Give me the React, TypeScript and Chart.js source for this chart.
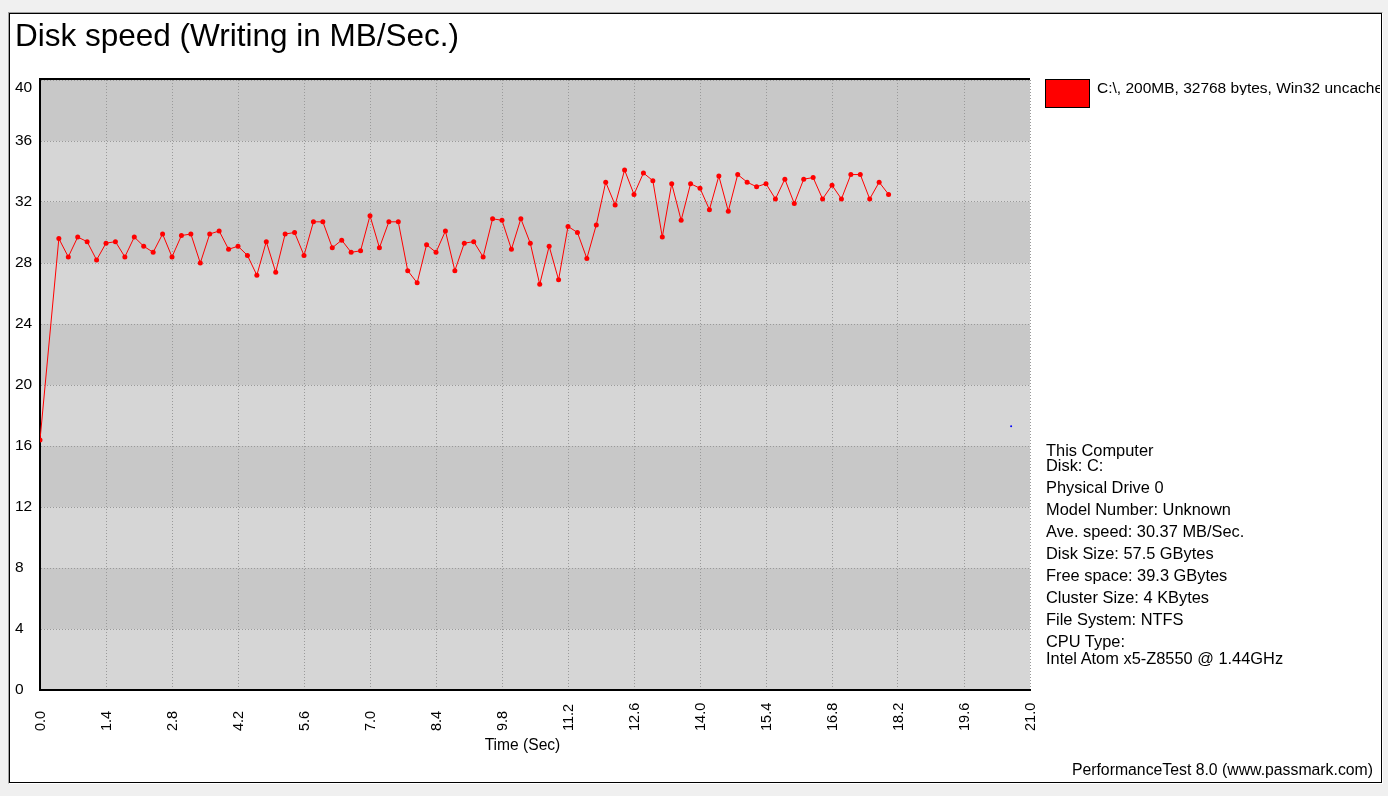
import React, { useEffect, useRef } from "react";
import { Chart, registerables } from "chart.js";

Chart.register(...registerables);

// ---- data ----
const timeSec = [
  0, 0.4, 0.6, 0.8, 1.0, 1.2, 1.4, 1.6, 1.8, 2.0, 2.2, 2.4, 2.6, 2.8, 3.0, 3.2, 3.4, 3.6, 3.8, 4.0,
  4.2, 4.4, 4.6, 4.8, 5.0, 5.2, 5.4, 5.6, 5.8, 6.0, 6.2, 6.4, 6.6, 6.8, 7.0, 7.2, 7.4, 7.6, 7.8, 8.0,
  8.2, 8.4, 8.6, 8.8, 9.0, 9.2, 9.4, 9.6, 9.8, 10.0, 10.2, 10.4, 10.6, 10.8, 11.0, 11.2, 11.4, 11.6,
  11.8, 12.0, 12.2, 12.4, 12.6, 12.8, 13.0, 13.2, 13.4, 13.6, 13.8, 14.0, 14.2, 14.4, 14.6, 14.8,
  15.0, 15.2, 15.4, 15.6, 15.8, 16.0, 16.2, 16.4, 16.6, 16.8, 17.0, 17.2, 17.4, 17.6, 17.8, 18.0,
];

const writeSpeed = [
  16.4, 29.6, 28.4, 29.7, 29.4, 28.2, 29.3, 29.4, 28.4, 29.7, 29.1, 28.7, 29.9, 28.4, 29.8, 29.9,
  28.0, 29.9, 30.1, 28.9, 29.1, 28.5, 27.2, 29.4, 27.4, 29.9, 30.0, 28.5, 30.7, 30.7, 29.0, 29.5,
  28.7, 28.8, 31.1, 29.0, 30.7, 30.7, 27.5, 26.7, 29.2, 28.7, 30.1, 27.5, 29.3, 29.4, 28.4, 30.9,
  30.8, 28.9, 30.9, 29.3, 26.6, 29.1, 26.9, 30.4, 30.0, 28.3, 30.5, 33.3, 31.8, 34.1, 32.5, 33.9,
  33.4, 29.7, 33.2, 30.8, 33.2, 32.9, 31.5, 33.7, 31.4, 33.8, 33.3, 33.0, 33.2, 32.2, 33.5, 31.9,
  33.5, 33.6, 32.2, 33.1, 32.2, 33.8, 33.8, 32.2, 33.3, 32.5,
];

const strayTime = [20.6];
const strayValue = [17.3];

const xTicks = [0, 1.4, 2.8, 4.2, 5.6, 7.0, 8.4, 9.8, 11.2, 12.6, 14.0, 15.4, 16.8, 18.2, 19.6, 21.0];
const xTickLabels = ["0.0", "1.4", "2.8", "4.2", "5.6", "7.0", "8.4", "9.8", "11.2", "12.6", "14.0", "15.4", "16.8", "18.2", "19.6", "21.0"];
const yTicks = [0, 4, 8, 12, 16, 20, 24, 28, 32, 36, 40];
const yTickLabels = ["0", "4", "8", "12", "16", "20", "24", "28", "32", "36", "40"];

const titleText = "Disk speed (Writing in MB/Sec.)";
const legendText = "C:\\, 200MB, 32768 bytes, Win32 uncached";
const xAxisTitle = "Time (Sec)";
const footerText = "PerformanceTest 8.0 (www.passmark.com)";
const infoLines = [
  "This Computer",
  "Disk: C:",
  "Physical Drive 0",
  "Model Number: Unknown",
  "Ave. speed: 30.37 MB/Sec.",
  "Disk Size: 57.5 GBytes",
  "Free space: 39.3 GBytes",
  "Cluster Size: 4 KBytes",
  "File System: NTFS",
  "CPU Type:",
  "Intel Atom x5-Z8550 @ 1.44GHz",
];
const infoBaselines = [456, 471, 493, 515, 537, 559, 581, 603, 625, 647, 664];

const FONT = '"Liberation Sans", Arial, sans-serif';

const decorPlugin = {
  id: "decor",
  beforeDraw(chart: any) {
    const { ctx, chartArea: a, scales } = chart;
    const y = scales.y;
    ctx.save();
    for (let i = 0; i < yTicks.length - 1; i++) {
      const top = y.getPixelForValue(yTicks[i + 1]);
      const bot = y.getPixelForValue(yTicks[i]);
      ctx.fillStyle = i % 2 === 0 ? "#d6d6d6" : "#c8c8c8";
      ctx.fillRect(a.left, top, a.right - a.left, bot - top);
    }
    ctx.restore();
  },
  afterDraw(chart: any) {
    const { ctx, chartArea: a, scales } = chart;
    const x = scales.x;
    const y = scales.y;
    ctx.save();
    // top frame line
    ctx.strokeStyle = "#000";
    ctx.lineWidth = 2;
    ctx.beginPath();
    ctx.moveTo(a.left - 1, a.top - 1);
    ctx.lineTo(a.right, a.top - 1);
    ctx.stroke();

    ctx.fillStyle = "#000";
    // y labels
    ctx.font = `15.5px ${FONT}`;
    ctx.textAlign = "left";
    ctx.textBaseline = "middle";
    yTicks.forEach((v, i) => {
      const py = Math.max(y.getPixelForValue(v), a.top + 8);
      ctx.fillText(yTickLabels[i], 15, py);
    });
    // x labels, rotated
    ctx.font = `14.5px ${FONT}`;
    xTicks.forEach((v, i) => {
      const px = x.getPixelForValue(v);
      ctx.save();
      ctx.translate(px + 0.5, 731);
      ctx.rotate(-Math.PI / 2);
      ctx.textAlign = "left";
      ctx.textBaseline = "middle";
      ctx.fillText(xTickLabels[i], 0, 0);
      ctx.restore();
    });
    ctx.restore();
  },
};

function ChartCanvas() {
  const ref = useRef<HTMLCanvasElement | null>(null);
  useEffect(() => {
    if (!ref.current) return;
    const chart = new Chart(ref.current, {
      type: "line",
      data: {
        datasets: [
          {
            label: legendText,
            data: timeSec.map((t, i) => ({ x: t, y: writeSpeed[i] })),
            borderColor: "#ff0000",
            backgroundColor: "#ff0000",
            borderWidth: 1,
            pointRadius: 2.5,
            pointBorderWidth: 0,
            pointBackgroundColor: "#ff0000",
            tension: 0,
          },
          {
            label: "stray",
            data: strayTime.map((t, i) => ({ x: t, y: strayValue[i] })),
            showLine: false,
            pointRadius: 1,
            pointBorderWidth: 0,
            pointBackgroundColor: "#0000ff",
            borderColor: "#0000ff",
          },
        ],
      },
      options: {
        animation: false,
        responsive: false,
        devicePixelRatio: 1,
        layout: { padding: { left: 40, top: 80, right: 358, bottom: 106 } },
        plugins: {
          legend: { display: false },
          title: { display: false },
          tooltip: { enabled: false },
        },
        scales: {
          x: {
            type: "linear",
            min: 0,
            max: 21,
            afterBuildTicks: (s: any) => {
              s.ticks = xTicks.map((v) => ({ value: v }));
            },
            afterFit: (s: any) => {
              s.height = 0;
            },
            ticks: { display: false },
            grid: { color: "#9a9a9a", lineWidth: 1, drawTicks: false },
            border: { display: true, color: "#000000", width: 2, dash: [1, 2] },
          },
          y: {
            type: "linear",
            min: 0,
            max: 40,
            afterBuildTicks: (s: any) => {
              s.ticks = yTicks.map((v) => ({ value: v }));
            },
            afterFit: (s: any) => {
              s.width = 0;
            },
            ticks: { display: false },
            grid: { color: "#9a9a9a", lineWidth: 1, drawTicks: false },
            border: { display: true, color: "#000000", width: 2, dash: [1, 2] },
          },
        },
      },
      plugins: [decorPlugin],
    } as any);
    return () => chart.destroy();
  }, []);
  return (
    <canvas
      ref={ref}
      width={1388}
      height={796}
      style={{ position: "absolute", left: 0, top: 0, width: 1388, height: 796 }}
    />
  );
}

function textTop(baseline: number, fs: number) {
  return baseline - 0.8465 * fs;
}

export default function App() {
  const base: React.CSSProperties = {
    position: "absolute",
    fontFamily: FONT,
    color: "#000",
    lineHeight: 1,
    whiteSpace: "nowrap",
  };
  return (
    <div
      style={{
        position: "fixed",
        left: 0,
        top: 0,
        width: 1388,
        height: 796,
        background: "#f0f0f0",
        overflow: "hidden",
      }}
    >
      <div
        style={{
          position: "absolute",
          left: 8,
          top: 12,
          width: 1375,
          height: 772,
          boxSizing: "border-box",
          borderTop: "1px solid #a0a0a0",
          borderLeft: "1px solid #a0a0a0",
          borderRight: "1px solid #ffffff",
          borderBottom: "1px solid #ffffff",
        }}
      >
        <div
          style={{
            width: "100%",
            height: "100%",
            boxSizing: "border-box",
            border: "1px solid #000",
            background: "#ffffff",
          }}
        />
      </div>
      <ChartCanvas />
      <div style={{ ...base, left: 15, top: textTop(46.7, 31.5), fontSize: 31.5 }}>{titleText}</div>
      <div
        style={{
          position: "absolute",
          left: 1045,
          top: 79,
          width: 45,
          height: 29,
          boxSizing: "border-box",
          background: "#ff0000",
          border: "1px solid #000",
        }}
      />
      <div
        style={{
          ...base,
          left: 1097,
          top: textTop(92.7, 15.5),
          width: 1380 - 1097,
          overflow: "hidden",
          fontSize: 15.5,
        }}
      >
        {legendText}
      </div>
      {infoLines.map((line, i) => (
        <div key={i} style={{ ...base, left: 1046, top: textTop(infoBaselines[i], 16.4), fontSize: 16.4 }}>
          {line}
        </div>
      ))}
      <div
        style={{
          ...base,
          left: 422.5,
          width: 200,
          textAlign: "center",
          top: textTop(750.5, 15.6),
          fontSize: 15.6,
        }}
      >
        {xAxisTitle}
      </div>
      <div style={{ ...base, right: 15, top: textTop(775, 15.8), fontSize: 15.8 }}>{footerText}</div>
    </div>
  );
}
